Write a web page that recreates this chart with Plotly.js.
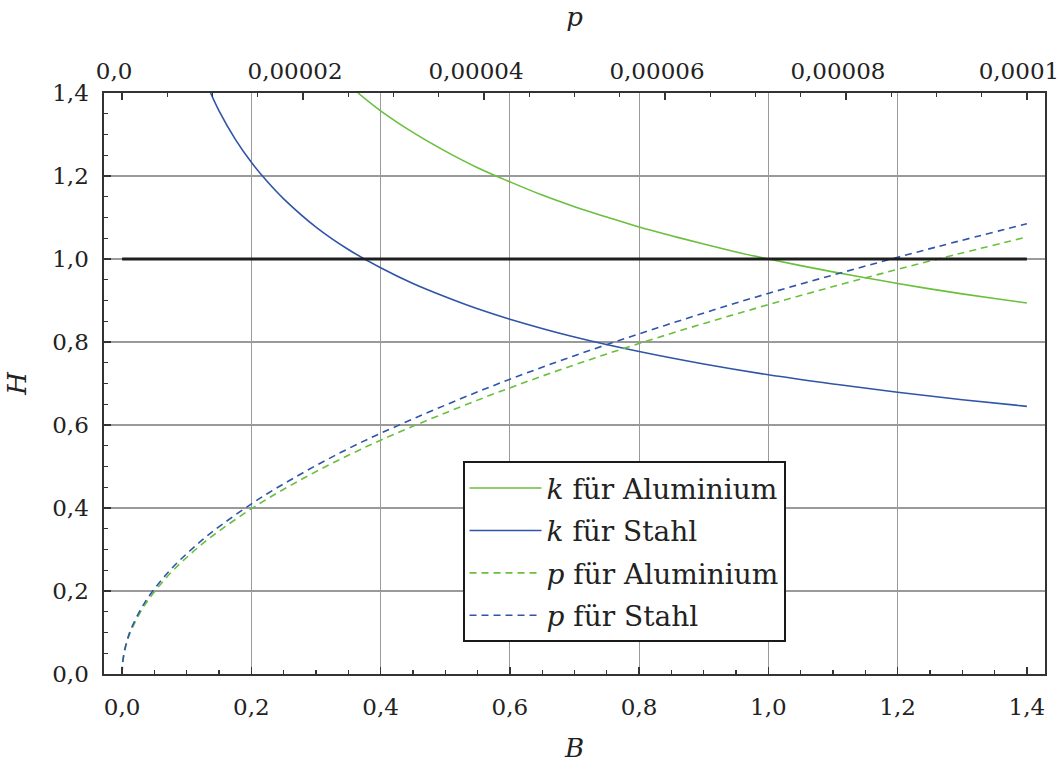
<!DOCTYPE html>
<html>
<head>
<meta charset="utf-8">
<script src="https://cdn.plot.ly/plotly-3.0.1.min.js"></script>
<style>html,body{margin:0;padding:0;background:#fff;}</style>
</head>
<body>
<div id="chart" style="width:1059px;height:772px;"></div>
<script>
// k für Aluminium (bottom axis B)
const kAlB = [0.365, 0.40, 0.45, 0.50, 0.55, 0.60, 0.65, 0.70, 0.75, 0.80, 0.85, 0.90, 0.95, 1.00, 1.05, 1.10, 1.15, 1.20, 1.25, 1.30, 1.35, 1.40];
const kAlH = [1.400, 1.357, 1.305, 1.260, 1.220, 1.186, 1.154, 1.126, 1.101, 1.077, 1.056, 1.036, 1.017, 1.000, 0.984, 0.969, 0.955, 0.941, 0.928, 0.916, 0.905, 0.894];
// k für Stahl (bottom axis B)
const kStB = [0.137, 0.15, 0.175, 0.20, 0.225, 0.25, 0.30, 0.35, 0.40, 0.45, 0.50, 0.55, 0.60, 0.70, 0.80, 0.90, 1.00, 1.10, 1.20, 1.30, 1.40];
const kStH = [1.400, 1.357, 1.289, 1.233, 1.186, 1.145, 1.077, 1.023, 0.979, 0.941, 0.909, 0.880, 0.855, 0.812, 0.777, 0.747, 0.721, 0.699, 0.679, 0.661, 0.645];
// p curves (top axis p)
const pVals = [0, 0.00000005, 0.0000002, 0.0000005, 0.000001, 0.0000025, 0.000005, 0.0000075, 0.00001, 0.000015, 0.00002, 0.000025, 0.00003, 0.00004, 0.00005, 0.00006, 0.00007, 0.00008, 0.00009, 0.0001];
const pAlH = [0, 0.0235, 0.0471, 0.0745, 0.105, 0.166, 0.235, 0.288, 0.333, 0.408, 0.471, 0.527, 0.577, 0.666, 0.745, 0.816, 0.881, 0.942, 0.999, 1.053];
const pStH = [0, 0.0243, 0.0485, 0.0767, 0.109, 0.172, 0.243, 0.297, 0.343, 0.420, 0.485, 0.543, 0.594, 0.686, 0.767, 0.840, 0.908, 0.970, 1.029, 1.085];
// reference line H = 1
const refB = [0, 1.4];
const refH = [1, 1];
// ticks
const bTicks = [0, 0.2, 0.4, 0.6, 0.8, 1.0, 1.2, 1.4];
const bGrid = [0.2, 0.4, 0.6, 0.8, 1.0, 1.2];
const hTicks = [0, 0.2, 0.4, 0.6, 0.8, 1.0, 1.2, 1.4];
const pTicks = [0, 0.00002, 0.00004, 0.00006, 0.00008, 0.0001];
const pTickText = ['0,0', '0,00002', '0,00004', '0,00006', '0,00008', '0,0001'];

const green = '#6abf3c';
const blue = '#2f54a8';
const FONT = 'DejaVu Serif';

const traces = [
  {x: refB, y: refH, xaxis: 'x3', yaxis: 'y', mode: 'lines', line: {color: '#1e1e1e', width: 3}, showlegend: false, hoverinfo: 'skip'},
  {x: kAlB, y: kAlH, mode: 'lines', name: '<i>k</i> für Aluminium', legendgroup: 'a', line: {color: green, width: 1.6, shape: 'spline'}},
  {x: kStB, y: kStH, mode: 'lines', name: '<i>k</i> für Stahl', legendgroup: 'b', line: {color: blue, width: 1.6, shape: 'spline'}},
  {x: pVals, y: pAlH, xaxis: 'x2', mode: 'lines', name: '<i>p</i> für Aluminium', legendgroup: 'c', line: {color: green, width: 1.6, dash: '7px,5px', shape: 'spline'}},
  {x: pVals, y: pStH, xaxis: 'x2', mode: 'lines', name: '<i>p</i> für Stahl', legendgroup: 'd', line: {color: blue, width: 1.6, dash: '7px,5px', shape: 'spline'}}
];

const xr = [-0.028, 1.428];
const layout = {
  width: 1059, height: 772,
  margin: {l: 104, r: 14, t: 93, b: 98, pad: 0},
  paper_bgcolor: '#fff', plot_bgcolor: '#fff',
  separators: ', ',
  font: {family: FONT, size: 23, color: '#222'},
  showlegend: true,
  legend: {
    x: 0.381, y: 0.366, xanchor: 'left', yanchor: 'top',
    bgcolor: '#fff', bordercolor: '#1a1a1a', borderwidth: 2,
    font: {family: FONT, size: 28, color: '#222'},
    tracegroupgap: 3, itemwidth: 72
  },
  xaxis: {
    range: xr, tickvals: bTicks, tickformat: '.1f',
    ticks: 'inside', ticklen: 7, tickcolor: '#333', tickwidth: 1.3,
    minor: {dtick: 0.05, tick0: 0, ticks: 'inside', ticklen: 4, tickcolor: '#333', showgrid: false},
    showgrid: false, zeroline: false,
    showline: true, mirror: true, linecolor: '#333', linewidth: 1.6,
    ticklabelstandoff: 12, ticklabeloverflow: 'allow',
    title: {text: '<i>B</i>', font: {family: FONT, size: 26, color: '#222'}, standoff: 19}
  },
  xaxis2: {
    overlaying: 'x', side: 'top', anchor: 'y',
    range: [xr[0] / 14000, xr[1] / 14000],
    tickvals: pTicks, ticktext: pTickText,
    ticks: 'inside', ticklen: 7, tickcolor: '#333', tickwidth: 1.3,
    minor: {dtick: 0.000005, tick0: 0, ticks: 'inside', ticklen: 4, tickcolor: '#333', showgrid: false},
    showgrid: false, zeroline: false, showline: false,
    ticklabelstandoff: 8, ticklabeloverflow: 'allow', ticklabelshift: -8,
    title: {text: '<i>p</i>', font: {family: FONT, size: 26, color: '#222'}, standoff: 24}
  },
  xaxis3: {
    overlaying: 'x', anchor: 'y', range: xr,
    tickvals: bGrid, showticklabels: false, ticks: '',
    showgrid: true, gridcolor: '#9a9a9a', gridwidth: 1.2,
    zeroline: false, showline: false
  },
  yaxis: {
    range: [0, 1.4], tickvals: hTicks, tickformat: '.1f',
    ticks: 'inside', ticklen: 7, tickcolor: '#333', tickwidth: 1.3,
    minor: {dtick: 0.05, tick0: 0, ticks: 'inside', ticklen: 4, tickcolor: '#333', showgrid: false},
    showgrid: true, gridcolor: '#9a9a9a', gridwidth: 1.2, zeroline: false,
    showline: true, mirror: true, linecolor: '#333', linewidth: 1.6,
    ticklabelstandoff: 9,
    title: {text: '<i>H</i>', font: {family: FONT, size: 26, color: '#222'}, standoff: 18}
  }
};

Plotly.newPlot('chart', traces, layout, {displayModeBar: false, staticPlot: true});
</script>
</body>
</html>
